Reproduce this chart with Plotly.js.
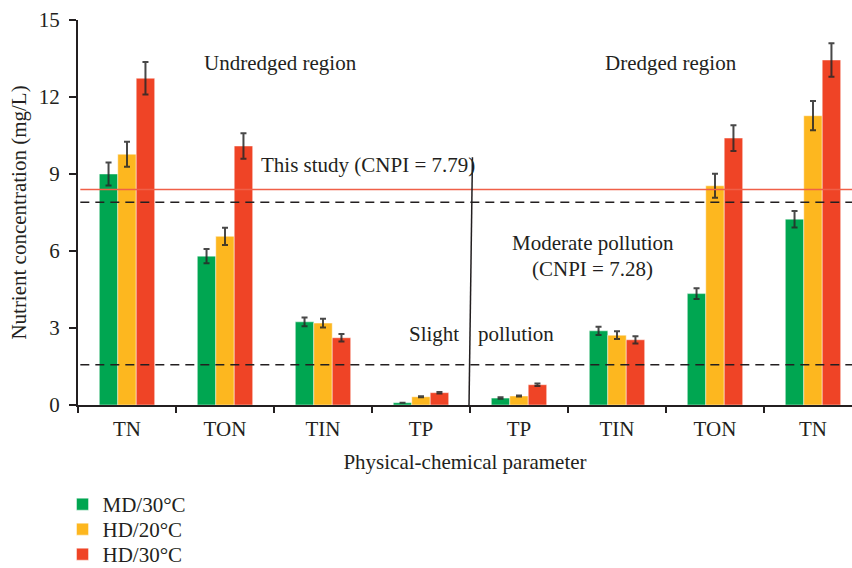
<!DOCTYPE html>
<html>
<head>
<meta charset="utf-8">
<script src="https://cdn.plot.ly/plotly-3.0.1.min.js"></script>
<style>html,body{margin:0;padding:0;background:#fff;}#chart{width:852px;height:568px;}</style>
</head>
<body>
<div id="chart"></div>
<script>
// Categories (undredged left half, dredged right half)
const categoryLabels = ["TN", "TON", "TIN", "TP", "TP", "TIN", "TON", "TN"];
const categoryIndex = [0, 1, 2, 3, 4, 5, 6, 7];

// Series values (mg/L)
const seriesNames = ["MD/30°C", "HD/20°C", "HD/30°C"];
const md30 = [9.00, 5.80, 3.24, 0.09, 0.27, 2.89, 4.34, 7.24];
const md30Err = [0.45, 0.28, 0.17, 0.00, 0.03, 0.16, 0.21, 0.32];
const hd20 = [9.77, 6.57, 3.19, 0.32, 0.35, 2.72, 8.54, 11.27];
const hd20Err = [0.49, 0.34, 0.17, 0.02, 0.02, 0.15, 0.47, 0.57];
const hd30 = [12.73, 10.09, 2.62, 0.48, 0.79, 2.54, 10.40, 13.44];
const hd30Err = [0.63, 0.50, 0.15, 0.03, 0.05, 0.14, 0.50, 0.65];

// Reference levels
const thisStudyLevel = 8.40;
const moderateLevel = 7.90;
const slightLevel = 1.57;
const dividerTop = 9.65;

// Y ticks
const yTicks = [0, 3, 6, 9, 12, 15];

const colors = ["#00a651", "#fdb71f", "#ef4426"];
const legendIds = ["legend", "legend2", "legend3"];
const FONT = "Liberation Serif, Times New Roman, serif";
const TXT = "#231f20";

function barTrace(i, y, err) {
  return {
    type: "bar",
    name: seriesNames[i],
    x: categoryIndex,
    y: y,
    legend: legendIds[i],
    marker: {color: colors[i], line: {color: "rgba(255,255,255,0.45)", width: 1}},
    error_y: {type: "data", array: err, visible: true, color: "rgba(40,40,40,0.85)", thickness: 2, width: 3}
  };
}

const data = [
  barTrace(0, md30, md30Err),
  barTrace(1, hd20, hd20Err),
  barTrace(2, hd30, hd30Err)
];

function legendBox(y) {
  return {
    x: -0.02, xanchor: "left",
    y: y, yanchor: "top",
    orientation: "v",
    font: {family: FONT, size: 21, color: TXT},
    bgcolor: "rgba(0,0,0,0)"
  };
}

const layout = {
  width: 852,
  height: 568,
  margin: {l: 78, r: 0, t: 20, b: 163, autoexpand: false},
  paper_bgcolor: "#ffffff",
  plot_bgcolor: "#ffffff",
  font: {family: FONT, size: 21, color: TXT},
  barmode: "group",
  bargap: 0.435,
  bargroupgap: 0,
  showlegend: true,
  legend: legendBox(-0.2052),
  legend2: legendBox(-0.2701),
  legend3: legendBox(-0.3351),
  xaxis: {
    range: [-0.5, 7.398],
    tickmode: "array",
    tickvals: categoryIndex,
    ticktext: categoryLabels,
    ticks: "",
    ticklabelstandoff: 4,
    showgrid: false,
    zeroline: false,
    showline: true,
    linecolor: "#231f20",
    linewidth: 2,
    automargin: false,
    tickfont: {family: FONT, size: 21, color: TXT},
    minor: {tick0: -0.5, dtick: 1, ticks: "outside", ticklen: 6, tickwidth: 2, tickcolor: "#231f20", showgrid: false},
    title: {text: "Physical-chemical parameter", font: {family: FONT, size: 21, color: TXT}, standoff: 14},
    fixedrange: true
  },
  yaxis: {
    range: [0, 15],
    tickmode: "array",
    tickvals: yTicks,
    ticktext: yTicks.map(String),
    ticks: "outside",
    ticklen: 7,
    tickwidth: 2,
    tickcolor: "#231f20",
    ticklabelstandoff: 5,
    showgrid: false,
    zeroline: false,
    showline: true,
    linecolor: "#231f20",
    linewidth: 2,
    automargin: false,
    tickfont: {family: FONT, size: 21, color: TXT},
    title: {text: "Nutrient concentration (mg/L)", font: {family: FONT, size: 21, color: TXT}, standoff: 6},
    fixedrange: true
  },
  shapes: [
    {type: "line", xref: "paper", yref: "y", x0: 0.003, x1: 1, y0: thisStudyLevel, y1: thisStudyLevel,
     line: {color: "#f06048", width: 1.5}},
    {type: "line", xref: "paper", yref: "y", x0: 0.003, x1: 1, y0: moderateLevel, y1: moderateLevel,
     line: {color: "#231f20", width: 1.5, dash: "9px,6px"}},
    {type: "line", xref: "paper", yref: "y", x0: 0.003, x1: 1, y0: slightLevel, y1: slightLevel,
     line: {color: "#231f20", width: 1.5, dash: "9px,6px"}},
    {type: "line", xref: "x", yref: "y", x0: 3.49, x1: 3.525, y0: 0, y1: dividerTop,
     line: {color: "#231f20", width: 1.5}}
  ],
  annotations: [
    {text: "Undredged region", x: 1.57, y: 13.33, xref: "x", yref: "y", showarrow: false, xanchor: "center", yanchor: "middle"},
    {text: "Dredged region", x: 5.556, y: 13.33, xref: "x", yref: "y", showarrow: false, xanchor: "center", yanchor: "middle"},
    {text: "This study (CNPI = 7.79)", x: 1.342, y: 9.35, xref: "x", yref: "y", showarrow: false, xanchor: "left", yanchor: "middle"},
    {text: "Moderate pollution", x: 4.75, y: 6.3, xref: "x", yref: "y", showarrow: false, xanchor: "center", yanchor: "middle"},
    {text: "(CNPI = 7.28)", x: 4.75, y: 5.29, xref: "x", yref: "y", showarrow: false, xanchor: "center", yanchor: "middle"},
    {text: "Slight", x: 3.413, y: 2.75, xref: "x", yref: "y", showarrow: false, xanchor: "right", yanchor: "middle"},
    {text: "pollution", x: 3.566, y: 2.75, xref: "x", yref: "y", showarrow: false, xanchor: "left", yanchor: "middle"}
  ]
};

Plotly.newPlot("chart", data, layout, {displayModeBar: false, staticPlot: true});
</script>
</body>
</html>
